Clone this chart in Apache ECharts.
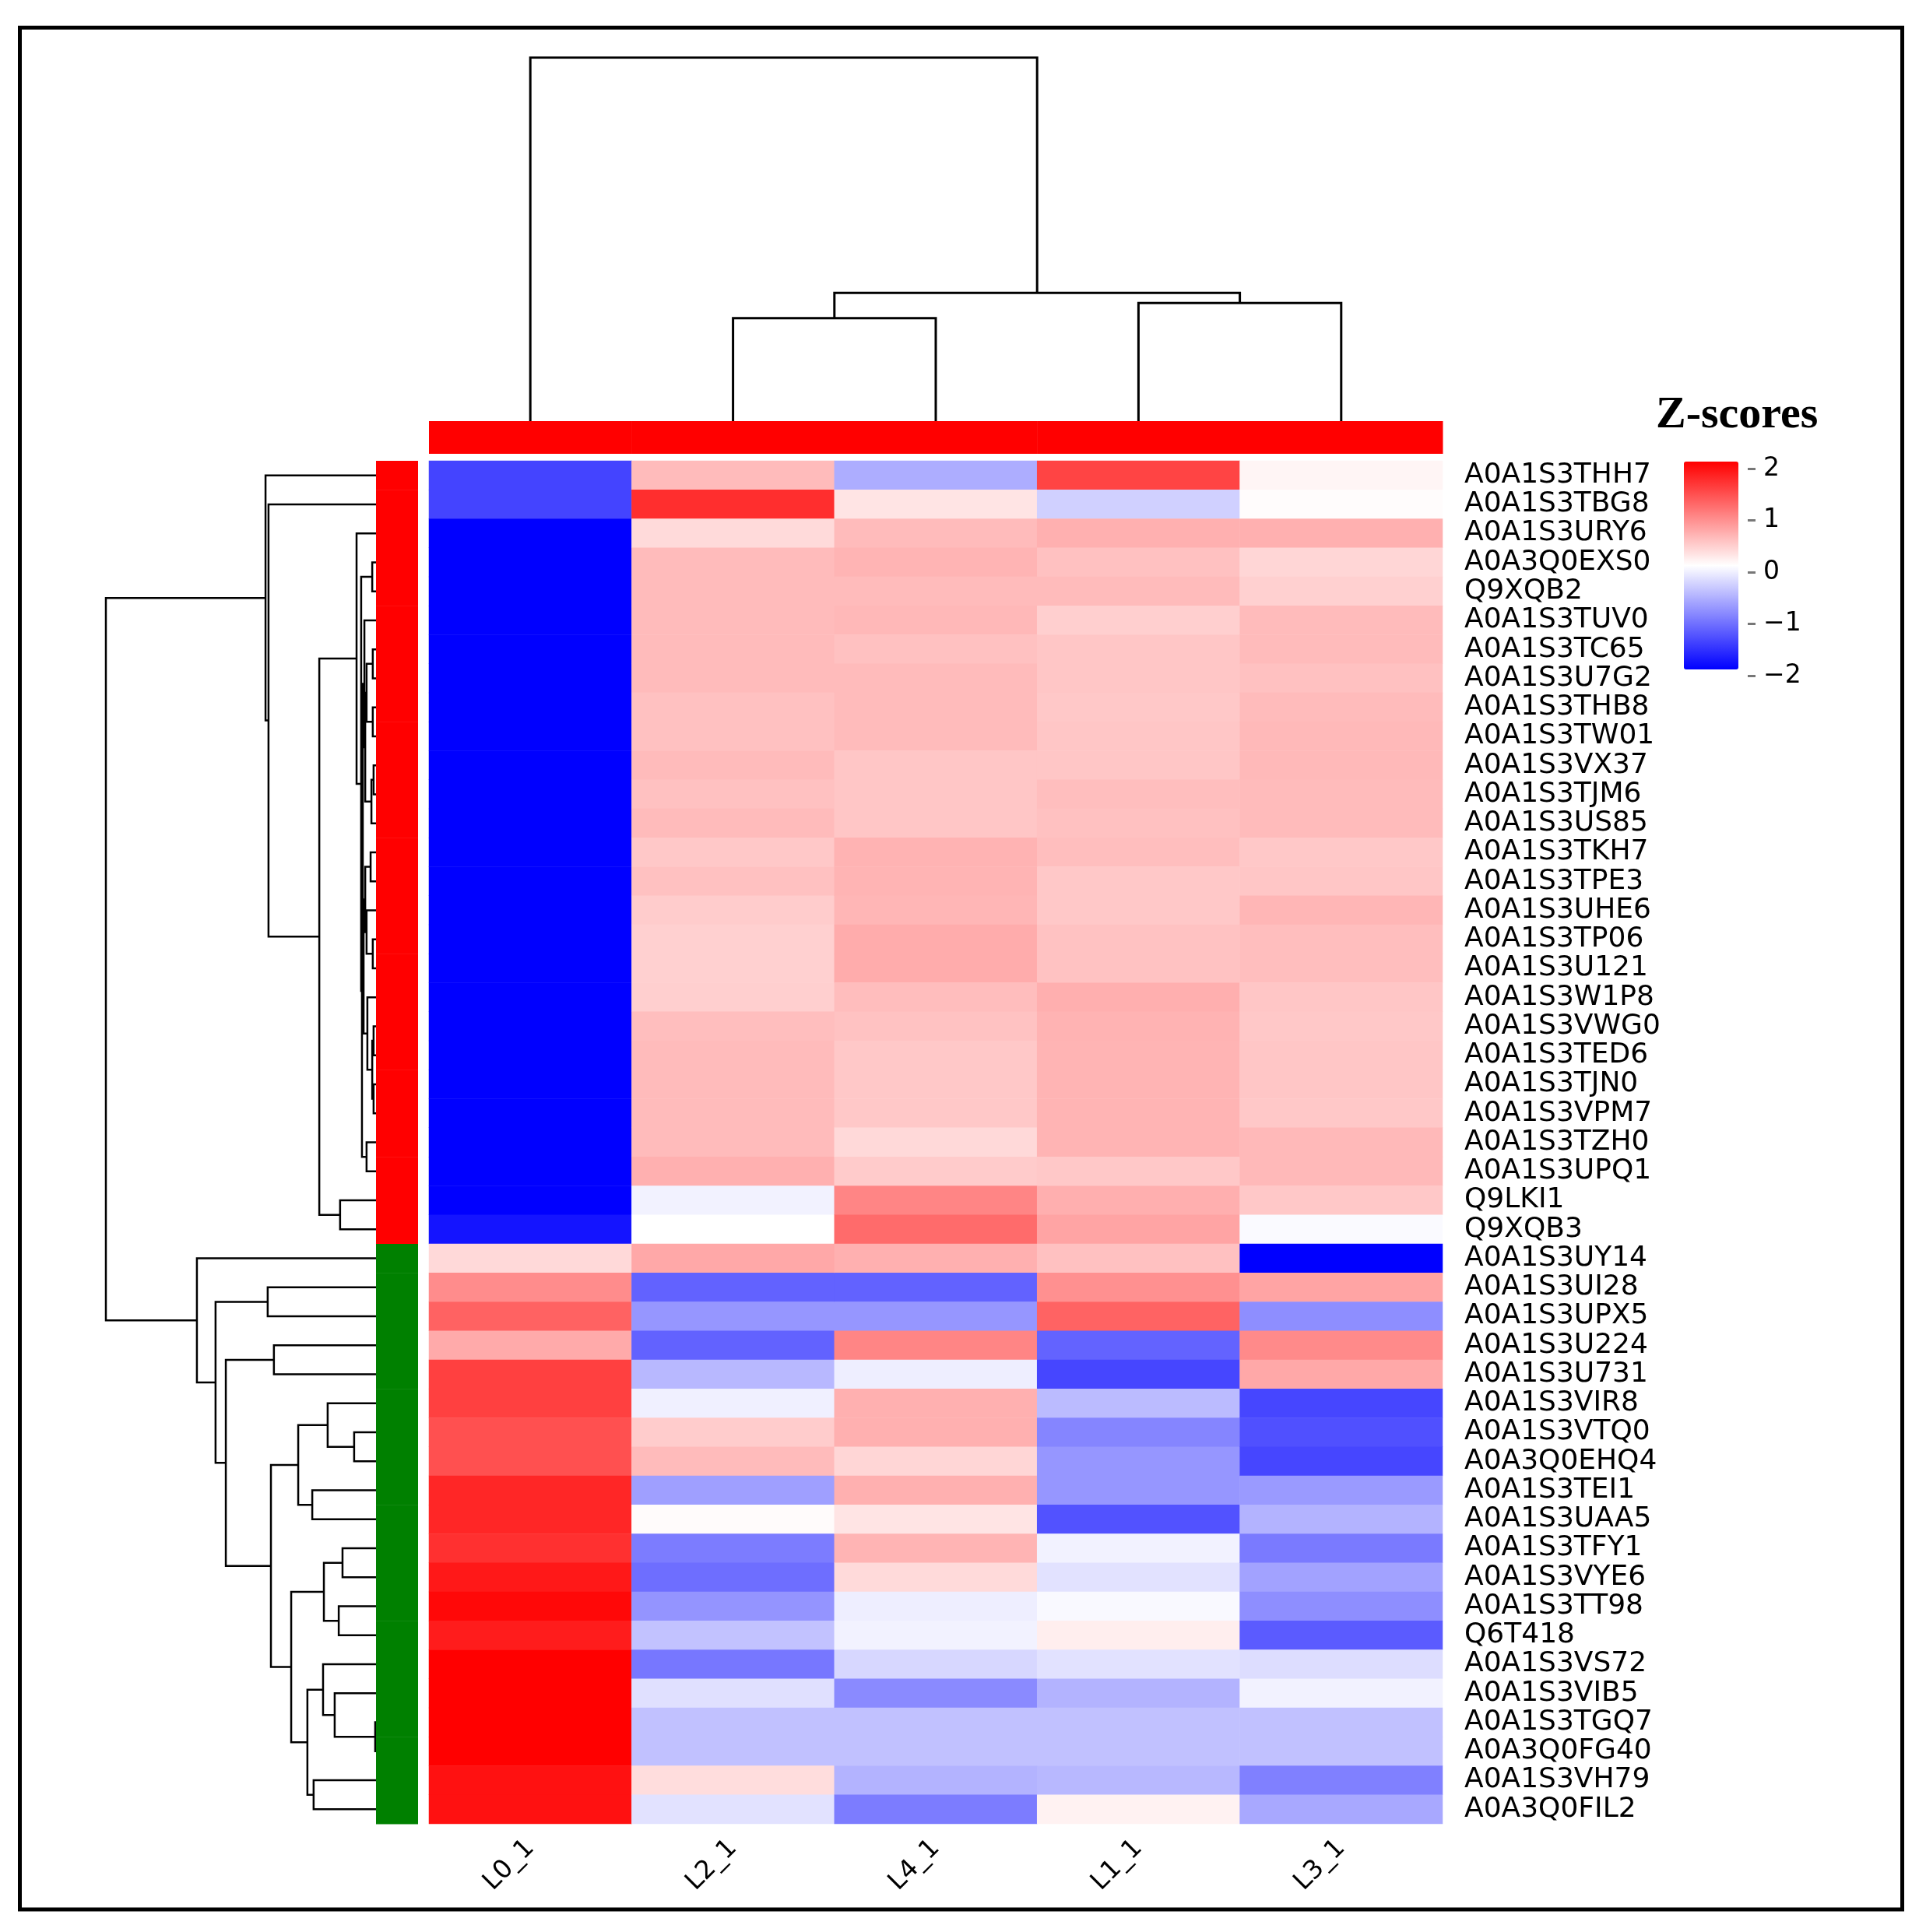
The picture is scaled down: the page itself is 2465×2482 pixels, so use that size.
<!DOCTYPE html>
<html lang="en">
<head>
  <meta charset="UTF-8">
  <title>Z-scores heatmap</title>
  <script src="https://cdn.jsdelivr.net/npm/echarts@6/dist/echarts.min.js"></script>
  <style>
    html, body { margin: 0; padding: 0; background: #fff; }
    #main { width: 2465px; height: 2482px; }
  </style>
</head>
<body>
  <div id="main"></div>
  <script>
    // samples, already in dendrogram order
    var cols = ['L0_1', 'L2_1', 'L4_1', 'L1_1', 'L3_1'];

    // proteins, top to bottom
    var rows = [
      'A0A1S3THH7', 'A0A1S3TBG8', 'A0A1S3URY6', 'A0A3Q0EXS0', 'Q9XQB2',
      'A0A1S3TUV0', 'A0A1S3TC65', 'A0A1S3U7G2', 'A0A1S3THB8', 'A0A1S3TW01',
      'A0A1S3VX37', 'A0A1S3TJM6', 'A0A1S3US85', 'A0A1S3TKH7', 'A0A1S3TPE3',
      'A0A1S3UHE6', 'A0A1S3TP06', 'A0A1S3U121', 'A0A1S3W1P8', 'A0A1S3VWG0',
      'A0A1S3TED6', 'A0A1S3TJN0', 'A0A1S3VPM7', 'A0A1S3TZH0', 'A0A1S3UPQ1',
      'Q9LKI1', 'Q9XQB3', 'A0A1S3UY14', 'A0A1S3UI28', 'A0A1S3UPX5',
      'A0A1S3U224', 'A0A1S3U731', 'A0A1S3VIR8', 'A0A1S3VTQ0', 'A0A3Q0EHQ4',
      'A0A1S3TEI1', 'A0A1S3UAA5', 'A0A1S3TFY1', 'A0A1S3VYE6', 'A0A1S3TT98',
      'Q6T418', 'A0A1S3VS72', 'A0A1S3VIB5', 'A0A1S3TGQ7', 'A0A3Q0FG40',
      'A0A1S3VH79', 'A0A3Q0FIL2'
    ];

    // z-scores, one array per sample (same order as rows)
    var zL0 = [-1.47, -1.47, -2.00, -2.00, -2.00, -2.00, -2.00, -2.00, -2.00, -2.00,
      -2.00, -2.00, -2.00, -2.00, -2.00, -2.00, -2.00, -2.00, -2.00, -2.00,
      -2.00, -2.00, -2.00, -2.00, -2.00, -2.00, -1.84, 0.30, 0.90, 1.23,
      0.67, 1.50, 1.50, 1.37, 1.37, 1.70, 1.70, 1.62, 1.81, 1.94,
      1.78, 2.00, 2.00, 2.00, 2.00, 1.87, 1.87];
    var zL2 = [0.53, 1.64, 0.29, 0.53, 0.53, 0.53, 0.53, 0.53, 0.49, 0.49,
      0.53, 0.49, 0.53, 0.43, 0.49, 0.40, 0.37, 0.37, 0.38, 0.51,
      0.53, 0.53, 0.53, 0.53, 0.62, -0.10, 0.00, 0.68, -1.23, -0.82,
      -1.23, -0.56, -0.12, 0.40, 0.53, -0.75, 0.03, -1.03, -1.14, -0.84,
      -0.48, -1.07, -0.24, -0.49, -0.49, 0.27, -0.23];
    var zL4 = [-0.64, 0.21, 0.53, 0.59, 0.53, 0.56, 0.49, 0.53, 0.53, 0.53,
      0.45, 0.45, 0.45, 0.60, 0.59, 0.57, 0.65, 0.65, 0.52, 0.48,
      0.43, 0.43, 0.43, 0.30, 0.41, 0.96, 1.16, 0.62, -1.23, -0.82,
      0.96, -0.13, 0.62, 0.62, 0.32, 0.62, 0.21, 0.59, 0.29, -0.13,
      -0.10, -0.31, -0.92, -0.49, -0.49, -0.60, -1.03];
    var zL1 = [1.47, -0.37, 0.62, 0.49, 0.53, 0.38, 0.45, 0.45, 0.43, 0.45,
      0.45, 0.51, 0.49, 0.51, 0.43, 0.43, 0.48, 0.48, 0.63, 0.60,
      0.59, 0.59, 0.59, 0.59, 0.43, 0.63, 0.71, 0.49, 0.87, 1.22,
      -1.22, -1.45, -0.53, -0.96, -0.82, -0.82, -1.36, -0.10, -0.23, -0.05,
      0.13, -0.23, -0.60, -0.49, -0.49, -0.56, 0.10];
    var zL3 = [0.08, 0.02, 0.62, 0.32, 0.37, 0.53, 0.53, 0.49, 0.53, 0.55,
      0.55, 0.53, 0.53, 0.43, 0.45, 0.57, 0.51, 0.51, 0.45, 0.43,
      0.45, 0.45, 0.43, 0.55, 0.55, 0.43, -0.04, -2.00, 0.71, -0.89,
      0.92, 0.68, -1.45, -1.37, -1.45, -0.79, -0.60, -1.04, -0.73, -0.89,
      -1.29, -0.27, -0.10, -0.49, -0.49, -1.00, -0.68];

    // hclust-style merges: negative = leaf (-1 is first), positive = earlier merge step
    var colMerge = [[-2, -3, 2.83], [-4, -5, 3.25], [1, 2, 3.53], [-1, 3, 10]];
    var rowMerge = [
      [-4, -5, 0.14], [-7, -8, 0.12], [-9, -10, 0.12], [2, 3, 0.35], [-11, -12, 0.09],
      [5, -13, 0.17], [4, 6, 0.40], [-6, 7, 0.43], [-14, -15, 0.20], [-17, -18, 0.12],
      [-16, 10, 0.35], [9, 11, 0.40], [-20, -21, 0.09], [-22, -23, 0.09], [13, 14, 0.14],
      [-19, 15, 0.32], [12, 16, 0.46], [8, 17, 0.49], [-24, -25, 0.35], [18, 19, 0.52],
      [1, 20, 0.55], [-3, 21, 0.72], [-26, -27, 1.33], [22, 23, 2.10], [-2, 24, 3.98],
      [-1, 25, 4.09],
      [-29, -30, 4.01], [-31, -32, 3.78], [-34, -35, 0.81], [-33, 29, 1.79], [-36, -37, 2.36],
      [30, 31, 2.88], [-38, -39, 1.24], [-40, -41, 1.38], [33, 34, 1.93], [-44, -45, 0.03],
      [-43, 36, 1.53], [-42, 37, 1.96], [-46, -47, 2.31], [38, 39, 2.54], [35, 40, 3.14],
      [32, 41, 3.89], [28, 42, 5.56], [27, 43, 5.94], [-28, 44, 6.63], [26, 45, 10]
    ];

    // annotation groups
    var rowCluster = [1, 1, 1, 1, 1, 1, 1, 1, 1, 1, 1, 1, 1, 1, 1, 1, 1, 1, 1, 1,
      1, 1, 1, 1, 1, 1, 1, 2, 2, 2, 2, 2, 2, 2, 2, 2, 2, 2, 2, 2,
      2, 2, 2, 2, 2, 2, 2];
    var colGroup = [1, 1, 1, 1, 1];
    var rowClusterColors = { 1: '#FF0000', 2: '#008000' };
    var colGroupColors = { 1: '#FF0000' };

    var zCols = [zL0, zL2, zL4, zL1, zL3];

    var heatData = [];
    zCols.forEach(function (col, c) {
      col.forEach(function (v, r) { heatData.push([c, r, v]); });
    });

    // turn merge table into bracket segments [posA, posB, hA, hB, h]
    function dendroSegments(merge) {
      var pos = [], hgt = [];
      return merge.map(function (m, k) {
        var a = m[0] < 0 ? [-m[0] - 1, 0] : [pos[m[0] - 1], hgt[m[0] - 1]];
        var b = m[1] < 0 ? [-m[1] - 1, 0] : [pos[m[1] - 1], hgt[m[1] - 1]];
        pos[k] = (a[0] + b[0]) / 2;
        hgt[k] = m[2];
        return [a[0], b[0], a[1], b[1], m[2]];
      });
    }

    var font = 'DejaVu Sans, sans-serif';
    var lineStyle = { stroke: '#000', fill: 'none', lineWidth: 2.5 };

    var myChart = echarts.init(document.getElementById('main'));

    var option = {
      backgroundColor: '#fff',
      animation: false,
      title: {
        text: 'Z-scores',
        left: 2127,
        top: 505,
        padding: 0,
        textStyle: { fontFamily: 'Liberation Serif, Times New Roman, serif', fontWeight: 'bold', fontSize: 58, color: '#000' }
      },
      graphic: [{
        type: 'rect',
        silent: true,
        z: 100,
        shape: { x: 25.5, y: 35.5, width: 2418, height: 2417.5 },
        style: { fill: 'none', stroke: '#000', lineWidth: 5 }
      }],
      visualMap: {
        type: 'continuous',
        seriesIndex: 0,
        min: -2,
        max: 2,
        calculable: false,
        left: 2163,
        top: 593,
        itemWidth: 70,
        itemHeight: 267,
        padding: 0,
        text: null,
        inRange: { color: ['#0000FF', '#FFFFFF', '#FF0000'] }
      },
      grid: [
        { left: 551, top: 592, width: 1302, height: 1751, outerBoundsMode: 'none' },
        { left: 136, top: 592, width: 347, height: 1751, outerBoundsMode: 'none' },
        { left: 551, top: 74, width: 1302, height: 467, outerBoundsMode: 'none' },
        { left: 483, top: 592, width: 54, height: 1751, outerBoundsMode: 'none' },
        { left: 551, top: 541, width: 1302, height: 42, outerBoundsMode: 'none' },
        { left: 2163, top: 602, width: 82, height: 266, outerBoundsMode: 'none' }
      ],
      xAxis: [
        {
          gridIndex: 0, type: 'category', data: cols,
          axisLine: { show: false }, axisTick: { show: false }, splitLine: { show: false },
          axisLabel: { interval: 0, rotate: 45, margin: 26, fontSize: 33, color: '#000', fontFamily: font }
        },
        { gridIndex: 1, type: 'value', min: 0, max: 10, inverse: true, show: false },
        { gridIndex: 2, type: 'value', min: -0.5, max: 4.5, show: false },
        { gridIndex: 3, type: 'category', data: ['cluster'], show: false },
        { gridIndex: 4, type: 'category', data: cols, show: false },
        { gridIndex: 5, type: 'category', data: ['scale'], show: false }
      ],
      yAxis: [
        {
          gridIndex: 0, type: 'category', data: rows, inverse: true, position: 'right',
          axisLine: { show: false }, axisTick: { show: false }, splitLine: { show: false },
          axisLabel: { interval: 0, margin: 28, fontSize: 36, color: '#000', fontFamily: font }
        },
        { gridIndex: 1, type: 'value', min: -0.5, max: 46.5, inverse: true, show: false },
        { gridIndex: 2, type: 'value', min: 0, max: 10, show: false },
        { gridIndex: 3, type: 'category', data: rows, inverse: true, show: false },
        { gridIndex: 4, type: 'category', data: ['group'], show: false },
        {
          gridIndex: 5, type: 'value', min: -2, max: 2, interval: 1, position: 'right',
          axisLine: { show: false, onZero: false }, splitLine: { show: false },
          axisTick: { show: true, length: 10, lineStyle: { color: '#777', width: 3 } },
          axisLabel: {
            margin: 20, fontSize: 33, color: '#000', fontFamily: font,
            formatter: function (v) { return String(v).replace('-', '\u2212'); }
          }
        }
      ],
      series: [
        {
          type: 'heatmap',
          xAxisIndex: 0, yAxisIndex: 0,
          data: heatData,
          silent: true,
          emphasis: { disabled: true },
          itemStyle: { borderWidth: 0 }
        },
        {
          // row dendrogram, height runs right to left
          type: 'custom',
          xAxisIndex: 1, yAxisIndex: 1,
          silent: true,
          data: dendroSegments(rowMerge),
          renderItem: function (params, api) {
            var pts = [
              api.coord([api.value(2), api.value(0)]),
              api.coord([api.value(4), api.value(0)]),
              api.coord([api.value(4), api.value(1)]),
              api.coord([api.value(3), api.value(1)])
            ];
            return { type: 'polyline', shape: { points: pts }, style: lineStyle };
          }
        },
        {
          // column dendrogram
          type: 'custom',
          xAxisIndex: 2, yAxisIndex: 2,
          silent: true,
          data: dendroSegments(colMerge),
          renderItem: function (params, api) {
            var pts = [
              api.coord([api.value(0), api.value(2)]),
              api.coord([api.value(0), api.value(4)]),
              api.coord([api.value(1), api.value(4)]),
              api.coord([api.value(1), api.value(3)])
            ];
            return { type: 'polyline', shape: { points: pts }, style: { stroke: '#000', fill: 'none', lineWidth: 3 } };
          }
        },
        {
          // row cluster bar
          type: 'custom',
          xAxisIndex: 3, yAxisIndex: 3,
          silent: true,
          data: rowCluster.map(function (g, i) {
            return { value: [0, i, g], itemStyle: { color: rowClusterColors[g] } };
          }),
          renderItem: function (params, api) {
            var c = api.coord([api.value(0), api.value(1)]);
            var s = api.size([1, 1]);
            return {
              type: 'rect',
              shape: { x: c[0] - s[0] / 2, y: c[1] - s[1] / 2, width: s[0], height: s[1] + 0.5 },
              style: { fill: api.visual('color') }
            };
          }
        },
        {
          // column group bar
          type: 'custom',
          xAxisIndex: 4, yAxisIndex: 4,
          silent: true,
          data: colGroup.map(function (g, i) {
            return { value: [i, 0, g], itemStyle: { color: colGroupColors[g] } };
          }),
          renderItem: function (params, api) {
            var c = api.coord([api.value(0), api.value(1)]);
            var s = api.size([1, 1]);
            return {
              type: 'rect',
              shape: { x: c[0] - s[0] / 2, y: c[1] - s[1] / 2, width: s[0] + 0.5, height: s[1] },
              style: { fill: api.visual('color') }
            };
          }
        }
      ]
    };

    myChart.setOption(option);
  </script>
</body>
</html>
